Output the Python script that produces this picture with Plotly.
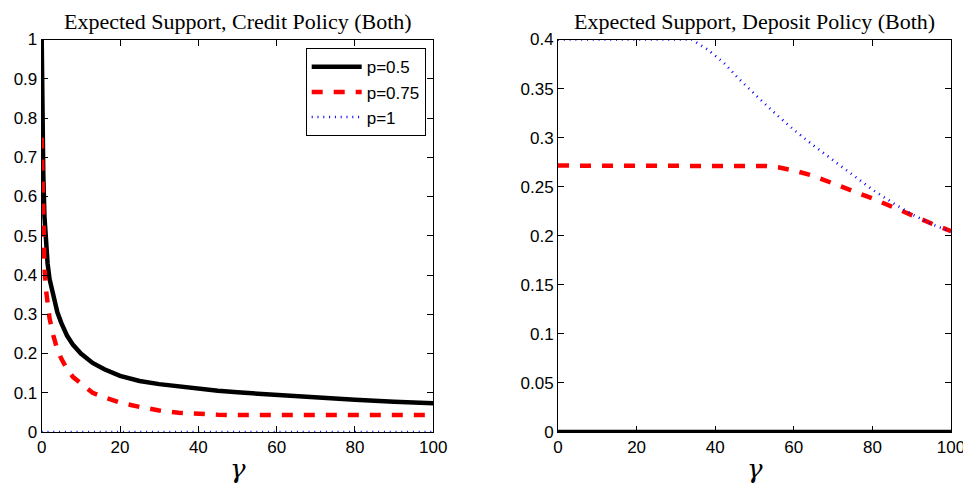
import plotly.graph_objects as go

# ---- data ----
gamma_credit = [0, 0.2, 0.4, 0.7, 1, 1.5, 2, 3, 4, 5, 6.5, 8, 10, 13, 16, 20, 25, 30,
                35, 40, 45, 50, 60, 70, 80, 90, 100]
credit_p050 = [1.0, 0.78, 0.66, 0.55, 0.49, 0.43, 0.39, 0.345, 0.305, 0.278, 0.245, 0.222,
               0.2, 0.176, 0.16, 0.143, 0.13, 0.122, 0.116, 0.11, 0.105, 0.101, 0.094,
               0.088, 0.082, 0.077, 0.073]
credit_p075 = [0.75, 0.6, 0.5, 0.42, 0.37, 0.32, 0.29, 0.245, 0.21, 0.187, 0.16, 0.14,
               0.123, 0.1, 0.088, 0.075, 0.064, 0.055, 0.049, 0.046, 0.044, 0.043, 0.043,
               0.043, 0.043, 0.043, 0.043]
credit_p1 = [0.0] * len(gamma_credit)

gamma_deposit = [0, 10, 20, 30, 34, 38, 42, 46, 50, 53, 56, 60, 65, 70, 75, 80, 85, 90, 95, 100]
deposit_p050 = [0.0] * len(gamma_deposit)
deposit_p075 = [0.2715, 0.2715, 0.2715, 0.2715, 0.2715, 0.2715, 0.2715, 0.2715, 0.2715,
                0.271, 0.2698, 0.2665, 0.261, 0.2535, 0.246, 0.238, 0.2296, 0.2205,
                0.2125, 0.2048]
deposit_p1 = [0.4, 0.4, 0.4, 0.4, 0.4, 0.39, 0.377, 0.36, 0.344, 0.333, 0.322, 0.308,
              0.292, 0.277, 0.262, 0.247, 0.234, 0.222, 0.212, 0.204]

labels = ["p=0.5", "p=0.75", "p=1"]
titles = ["Expected Support, Credit Policy (Both)", "Expected Support, Deposit Policy (Both)"]

# page body has an 8px margin: figure is sized/positioned to compensate
OFF = 8
W, H = 971 - OFF, 485 - OFF


def px(x):
    return (x - OFF) / W


def py(y):
    return 1 - (y - OFF) / H


styles = [dict(color="black", width=4.5, dash="solid"),
          dict(color="#ff0000", width=4.5, dash="11px,11px"),
          dict(color="#0000ff", width=2.6, dash="1px,4.8px")]

fig = go.Figure()
for ys, lab, st in zip([credit_p050, credit_p075, credit_p1], labels, styles):
    fig.add_trace(go.Scatter(x=gamma_credit, y=ys, mode="lines", name=lab, line=st,
                             cliponaxis=False, xaxis="x", yaxis="y"))
for ys, lab, st in zip([deposit_p050, deposit_p075, deposit_p1], labels, styles):
    fig.add_trace(go.Scatter(x=gamma_deposit, y=ys, mode="lines", name=lab, line=st,
                             showlegend=False, cliponaxis=False, xaxis="x2", yaxis="y2"))

tickfont = dict(family="Liberation Sans, Arial", size=17, color="black")
common = dict(showline=True, linecolor="black", linewidth=1, mirror="ticks",
              ticks="inside", ticklen=6, tickcolor="black", showgrid=False,
              zeroline=False, tickfont=tickfont, automargin=False)

y0 = py(432)
y1 = py(39.5)
fig.update_layout(
    width=W, height=H,
    margin=dict(l=0, r=0, t=0, b=0, autoexpand=False),
    paper_bgcolor="white", plot_bgcolor="white",
    xaxis=dict(domain=[px(41.7), px(433.3)], range=[0, 100], tickvals=[0, 20, 40, 60, 80, 100],
               anchor="y", **common),
    yaxis=dict(domain=[y0, y1], range=[0, 1], dtick=0.1, tick0=0, anchor="x", **common),
    xaxis2=dict(domain=[px(558), px(951)], range=[0, 100], tickvals=[0, 20, 40, 60, 80, 100],
                anchor="y2", **common),
    yaxis2=dict(domain=[y0, y1], range=[0, 0.4], dtick=0.05, tick0=0, anchor="x2", **common),
    legend=dict(x=px(425.7), y=py(48.3), xanchor="right", yanchor="top",
                bordercolor="black", borderwidth=1, bgcolor="white",
                font=dict(family="Liberation Sans, Arial", size=17, color="black"),
                tracegroupgap=0, itemwidth=50),
    showlegend=True,
)

cx = [px((41.7 + 433.3) / 2), px((558 + 951) / 2)]
for c, t in zip(cx, titles):
    fig.add_annotation(x=c, y=1, xref="paper", yref="paper", text=t,
                       showarrow=False, xanchor="center", yanchor="top", borderpad=0,
                       font=dict(family="Liberation Serif, Times New Roman", size=22, color="black"))
    fig.add_annotation(x=c, y=py(469), xref="paper", yref="paper", text="<i>γ</i>",
                       showarrow=False, xanchor="center", yanchor="middle", borderpad=0,
                       font=dict(family="DejaVu Serif", size=26, color="black"))

fig.write_html("out.html")
